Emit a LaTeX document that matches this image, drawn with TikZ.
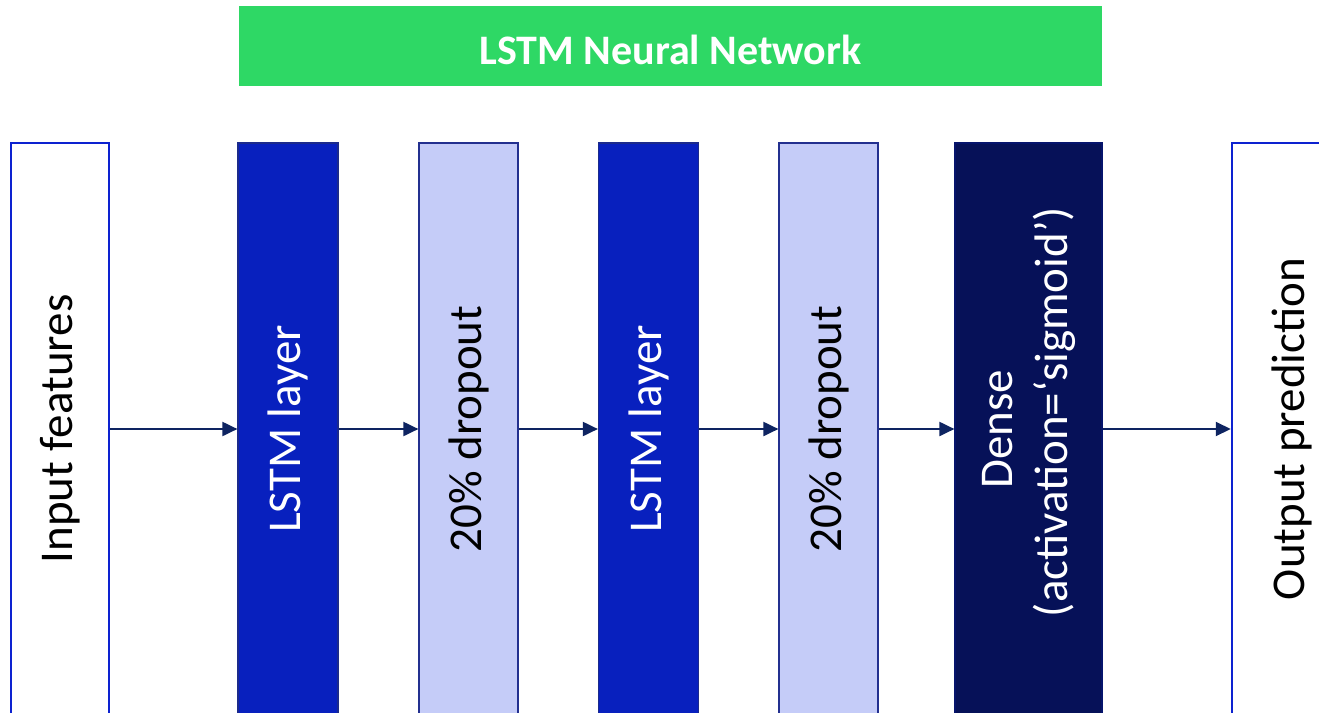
\documentclass[tikz,border=0pt]{standalone}
\usepackage{fontspec}
\setmainfont{Carlito}
\usetikzlibrary{arrows.meta}
\definecolor{bannergreen}{HTML}{2ED865}
\definecolor{outlineblue}{HTML}{0D22D0}
\definecolor{lstmblue}{HTML}{0820BE}
\definecolor{lstmedge}{HTML}{1B2A8C}
\definecolor{dropfill}{HTML}{C5CCF8}
\definecolor{dropedge}{HTML}{23308F}
\definecolor{densefill}{HTML}{061158}
\definecolor{arrownavy}{HTML}{0E2461}
\tikzset{
  layer/.style={rotate=90, minimum width=572pt, inner sep=0pt,
    font=\fontsize{47}{55}\selectfont, align=center},
  iobox/.style={layer, draw=outlineblue, line width=2.5pt, fill=white,
    text=black, minimum height=98pt},
  lstmbox/.style={layer, draw=lstmedge, line width=1.2pt, fill=lstmblue,
    text=white, minimum height=100pt},
  dropbox/.style={layer, draw=dropedge, line width=1.2pt, fill=dropfill,
    text=black, minimum height=99pt},
  densebox/.style={layer, draw=densefill!80!lstmblue, line width=1.2pt,
    fill=densefill, text=white, minimum height=147pt},
  flow/.style={draw=arrownavy, line width=2pt,
    -{Triangle[length=15pt, width=14pt]}},
}
\begin{document}
\begin{tikzpicture}[x=1pt, y=-1pt]
  \clip (0,0) rectangle (1319,712);
  \fill[white] (0,0) rectangle (1319,712);

  % title banner
  \node[fill=bannergreen, minimum width=863pt, minimum height=80pt,
    inner sep=0pt] (banner) at (670.5,46) {};
  \node[text=white, font=\fontsize{42}{50}\selectfont\bfseries]
    (title) at ([yshift=-3.5pt]banner.center) {LSTM Neural Network};

  % network layers, left to right
  \node[iobox]    (input)  at (60,429)     {Input features};
  \node[lstmbox]  (lstm1)  at (288,429)    {LSTM layer};
  \node[dropbox]  (drop1)  at (468.5,429)  {20\% dropout};
  \node[lstmbox]  (lstm2)  at (648.5,429)  {LSTM layer};
  \node[dropbox]  (drop2)  at (828.5,429)  {20\% dropout};
  \node[densebox] (dense)  at (1028.5,429)
    {Dense\\\hspace*{34pt}(activation=‘sigmoid’)};
  \node[iobox, minimum height=120pt] (output) at (1292,429) {Output prediction};

  % data flow
  \draw[flow] (input) -- (lstm1);
  \draw[flow] (lstm1) -- (drop1);
  \draw[flow] (drop1) -- (lstm2);
  \draw[flow] (lstm2) -- (drop2);
  \draw[flow] (drop2) -- (dense);
  \draw[flow] (dense) -- (output);
\end{tikzpicture}
\end{document}
